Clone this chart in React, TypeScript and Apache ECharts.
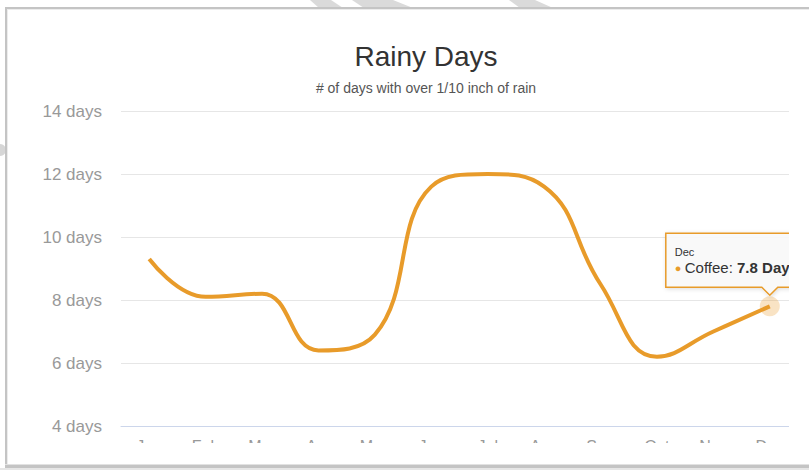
import React, { useEffect, useRef } from "react";
import * as echarts from "echarts";

const months = ["Jan", "Feb", "Mar", "Apr", "May", "Jun", "Jul", "Aug", "Sep", "Oct", "Nov", "Dec"];
const coffee = [9.3, 8.1, 8.2, 6.4, 6.9, 11.6, 12.0, 11.6, 8.5, 6.2, 7.0, 7.8];
const seriesName = "Coffee";
const hoverIndex = 11;
const ORANGE = "#E89B2A";

export default function App() {
  const ref = useRef<HTMLDivElement>(null);
  useEffect(() => {
    document.body.style.margin = "0";
    const chart = echarts.init(ref.current!, null, { renderer: "svg" });
    const font = "'Liberation Sans', Arial, sans-serif";
    const base: any = {
      animation: false,
      backgroundColor: "#ffffff",
      textStyle: { fontFamily: font },
      title: {
        text: "Rainy Days",
        subtext: "# of days with over 1/10 inch of rain",
        left: 421,
        top: 37,
        textAlign: "center",
        itemGap: 11,
        textStyle: { fontSize: 28, fontWeight: "normal", color: "#333333", fontFamily: font },
        subtextStyle: { fontSize: 14, color: "#555555", fontFamily: font },
      },
      grid: { left: 121, right: 11, top: 111, bottom: 44 },
      xAxis: {
        type: "category",
        data: months,
        boundaryGap: true,
        axisLine: { lineStyle: { color: "#ccd6eb", width: 1 } },
        axisTick: { show: false },
        axisLabel: { color: "#999999", fontSize: 16, margin: 12, fontFamily: font },
      },
      yAxis: {
        type: "value",
        min: 4,
        max: 14,
        interval: 2,
        axisLabel: { formatter: "{value} days", color: "#999999", fontSize: 17, margin: 19, fontFamily: font },
        splitLine: { lineStyle: { color: "#e6e6e6" } },
        axisLine: { show: false },
        axisTick: { show: false },
      },
      series: [
        {
          name: seriesName,
          type: "line",
          data: coffee,
          smooth: 0.45,
          symbol: "none",
          lineStyle: { color: ORANGE, width: 4 },
          itemStyle: { color: ORANGE },
          markPoint: {
            symbol: "circle",
            symbolSize: 20,
            silent: true,
            label: { show: false },
            itemStyle: { color: ORANGE, opacity: 0.28 },
            data: [{ coord: [months[hoverIndex], coffee[hoverIndex]] }],
          },
        },
      ],
    };
    chart.setOption(base);
    const [px, py] = chart.convertToPixel({ gridIndex: 0 }, [months[hoverIndex], coffee[hoverIndex]]) as number[];
    const bx = px - 104;
    const by = py - 73;
    const bh = 54;
    const bw = 170;
    const elements: any[] = [
      {
        type: "polygon",
        z: 50,
        shape: {
          points: [
            [bx, by],
            [bx + bw, by],
            [bx + bw, by + bh],
            [px + 8, by + bh],
            [px, by + bh + 8],
            [px - 8, by + bh],
            [bx, by + bh],
          ],
        },
        style: { fill: "rgba(250,250,250,0.92)", stroke: ORANGE, lineWidth: 1.5, shadowBlur: 4, shadowColor: "rgba(0,0,0,0.15)", shadowOffsetX: 1, shadowOffsetY: 1 },
      },
      {
        type: "text",
        z: 51,
        x: bx + 9,
        y: by + 13,
        style: { text: months[hoverIndex], fontSize: 11, fill: "#333333", fontFamily: font },
      },
      {
        type: "text",
        z: 51,
        x: bx + 9,
        y: by + 27,
        style: {
          text: "{dot|●} {n|" + seriesName + ": }{v|" + coffee[hoverIndex] + " Days}",
          fontFamily: font,
          rich: {
            dot: { fill: ORANGE, fontSize: 11, fontFamily: font },
            n: { fill: "#333333", fontSize: 15, fontFamily: font },
            v: { fill: "#333333", fontSize: 15, fontWeight: "bold", fontFamily: font },
          },
        },
      },
      { type: "rect", z: 100, shape: { x: 789, y: 0, width: 20, height: 470 }, style: { fill: "#ffffff" } },
      { type: "rect", z: 100, shape: { x: 0, y: 443, width: 809, height: 30 }, style: { fill: "#ffffff" } },
      { type: "rect", z: 100, shape: { x: 0, y: 0, width: 809, height: 8 }, style: { fill: "#ffffff" } },
      { type: "polygon", z: 101, shape: { points: [[310, 0], [331, 0], [343, 8], [319, 8]] }, style: { fill: "#dadada" } },
      { type: "polygon", z: 101, shape: { points: [[352, 0], [393, 0], [413, 8], [364, 8]] }, style: { fill: "#dadada" } },
      { type: "polygon", z: 101, shape: { points: [[509, 0], [535, 0], [553, 8], [520, 8]] }, style: { fill: "#dadada" } },
      { type: "rect", z: 102, shape: { x: 5, y: 7, width: 804, height: 2 }, style: { fill: "#c4c4c4" } },
      { type: "rect", z: 102, shape: { x: 5, y: 9, width: 804, height: 1 }, style: { fill: "#ececec" } },
      { type: "rect", z: 102, shape: { x: 5, y: 7, width: 2, height: 459 }, style: { fill: "#c4c4c4" } },
      { type: "rect", z: 102, shape: { x: 7, y: 9, width: 1, height: 456 }, style: { fill: "#ececec" } },
      { type: "rect", z: 102, shape: { x: 5, y: 464, width: 804, height: 1 }, style: { fill: "#e2e2e2" } },
      { type: "rect", z: 102, shape: { x: 5, y: 465, width: 804, height: 3 }, style: { fill: "#c4c4c4" } },
      { type: "rect", z: 102, shape: { x: 0, y: 468, width: 809, height: 2 }, style: { fill: "#e6e6e6" } },
      { type: "circle", z: 101, shape: { cx: 0, cy: 150, r: 6 }, style: { fill: "#d6d6d6" } },
    ];
    chart.setOption({ graphic: { elements } });
    return () => chart.dispose();
  }, []);
  return <div ref={ref} style={{ position: "fixed", left: 0, top: 0, width: 809, height: 470 }} />;
}
